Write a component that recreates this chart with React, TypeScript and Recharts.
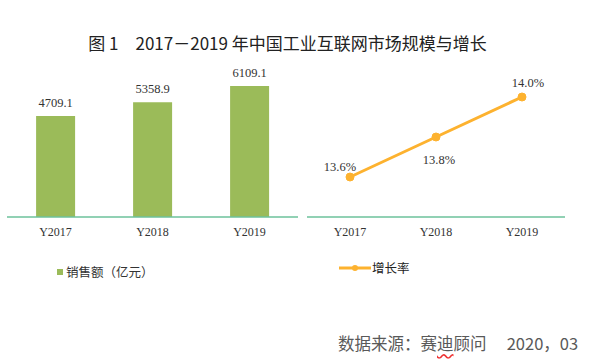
import { BarChart, Bar, LineChart, Line, XAxis, YAxis, LabelList, Legend } from 'recharts';

const years = ['Y2017', 'Y2018', 'Y2019'];
const sales = [4709.1, 5358.9, 6109.1];
const growth = [13.6, 13.8, 14.0];

const barData = years.map((year, i) => ({ year, sales: sales[i] }));
const lineData = years.map((year, i) => ({ year, growth: growth[i] }));

const GREEN = '#9bbb59';
const ORANGE = '#fdb22f';
const AXIS = '#6cc29b';
const CJK = '"Noto Sans CJK SC", "Noto Sans", sans-serif';
const NUM = '"Liberation Serif", "DejaVu Serif", serif';

// where each growth label sits relative to its point
const growthLabelOffsets = [
  [-10, -10],
  [3, 23],
  [6, -14],
];

const GrowthLabel = (props: any) => {
  const { x, y, value } = props;
  let index = props.index;
  if (index == null) index = growth.indexOf(value);
  const [dx, dy] = growthLabelOffsets[index] || [0, -12];
  return (
    <text
      x={x + dx}
      y={y + dy}
      textAnchor="middle"
      dominantBaseline="central"
      fontSize={12.5}
      fontFamily={NUM}
      fill="#333"
    >
      {Number(value).toFixed(1)}%
    </text>
  );
};

const tickStyle = { fontSize: 12, fontFamily: NUM, fill: '#333' };

export default function App() {
  return (
    <div
      style={{
        position: 'fixed',
        left: 0,
        top: 0,
        width: 597,
        height: 364,
        background: '#fff',
        overflow: 'hidden',
      }}
    >
      <div
        style={{
          position: 'absolute',
          left: 0,
          width: 575,
          top: 30,
          textAlign: 'center',
          fontFamily: CJK,
          fontSize: 17,
          color: '#222',
          whiteSpace: 'pre',
        }}
      >
        {'图 1　2017－2019 年中国工业互联网市场规模与增长'}
      </div>

      <div style={{ position: 'absolute', left: 0, top: 0 }}>
        <BarChart
          width={300}
          height={364}
          data={barData}
          margin={{ top: 67, right: 2, left: 7, bottom: 98 }}
          barCategoryGap="30%"
        >
          <XAxis
            dataKey="year"
            height={30}
            tickLine={false}
            axisLine={{ stroke: AXIS, strokeWidth: 1.5 }}
            tick={tickStyle}
            tickMargin={4}
          />
          <YAxis hide domain={[0, 7000]} />
          <Bar dataKey="sales" fill={GREEN} isAnimationActive={false}>
            <LabelList
              dataKey="sales"
              position="top"
              offset={9}
              formatter={(v: any) => Number(v).toFixed(1)}
              style={{ fontSize: 12.5, fontFamily: NUM, fill: '#333' }}
            />
          </Bar>
          <Legend
            content={() => (
              <div
                style={{
                  display: 'flex',
                  alignItems: 'center',
                  fontFamily: CJK,
                  fontSize: 12.5,
                  color: '#333',
                }}
              >
                <span
                  style={{
                    display: 'inline-block',
                    width: 6,
                    height: 6,
                    background: GREEN,
                    marginRight: 3,
                  }}
                />
                销售额（亿元）
              </div>
            )}
            wrapperStyle={{ position: 'absolute', left: 57, top: 262, width: 'auto' }}
          />
        </BarChart>
      </div>

      <div style={{ position: 'absolute', left: 300, top: 0 }}>
        <LineChart
          width={297}
          height={364}
          data={lineData}
          margin={{ top: 67, right: 32, left: 7, bottom: 98 }}
        >
          <XAxis
            dataKey="year"
            height={30}
            tickLine={false}
            axisLine={{ stroke: AXIS, strokeWidth: 1.5 }}
            tick={tickStyle}
            tickMargin={4}
            padding={{ left: 43, right: 43 }}
          />
          <YAxis hide domain={[13.4, 14.15]} />
          <Line
            dataKey="growth"
            stroke={ORANGE}
            strokeWidth={3}
            dot={{ r: 4, fill: ORANGE, stroke: ORANGE, strokeWidth: 1 }}
            isAnimationActive={false}
          >
            <LabelList dataKey="growth" content={<GrowthLabel />} />
          </Line>
          <Legend
            content={() => (
              <div
                style={{
                  display: 'flex',
                  alignItems: 'center',
                  fontFamily: CJK,
                  fontSize: 12.5,
                  color: '#222',
                }}
              >
                <svg width={32} height={10} style={{ marginRight: 1 }}>
                  <line x1={0} y1={5} x2={32} y2={5} stroke={ORANGE} strokeWidth={3} />
                  <circle cx={16} cy={5} r={3} fill={ORANGE} />
                </svg>
                增长率
              </div>
            )}
            wrapperStyle={{ position: 'absolute', left: 39, top: 258, width: 'auto' }}
          />
        </LineChart>
      </div>

      <div
        style={{
          position: 'absolute',
          left: 338,
          top: 331,
          fontFamily: CJK,
          fontSize: 16.5,
          color: '#595959',
          whiteSpace: 'pre',
        }}
      >
        数据来源：赛
        <span style={{ textDecoration: 'underline wavy #e33', textUnderlineOffset: 3 }}>迪</span>
        {'顾问　 2020，03'}
      </div>
    </div>
  );
}
